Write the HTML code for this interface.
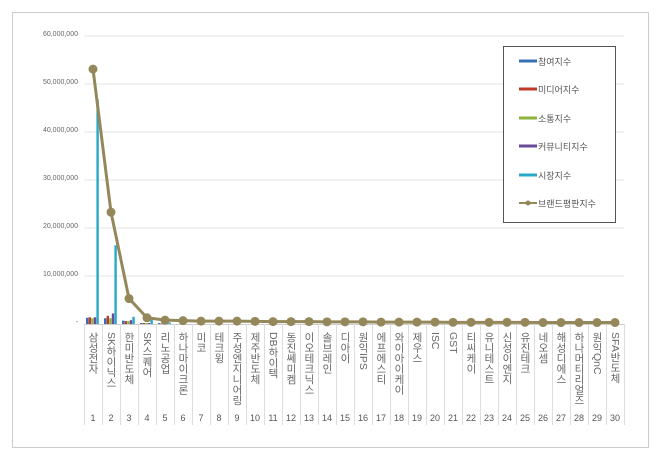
<!DOCTYPE html>
<html><head><meta charset="utf-8"><style>
html,body{margin:0;padding:0;background:#fff;}
#c{position:relative;width:660px;height:457px;overflow:hidden;font-family:"Liberation Sans","Noto Sans CJK KR",sans-serif;}
.lab{position:absolute;top:332px;width:18px;writing-mode:vertical-rl;text-orientation:mixed;font-size:10.5px;color:#666;line-height:18px;}
.num{position:absolute;top:413px;width:18px;text-align:center;font-size:9px;color:#555;}
.yl{position:absolute;left:20px;width:58px;text-align:right;font-size:7px;color:#666;}
.lg{position:absolute;left:538px;font-size:9px;color:#555;}
</style></head><body><div id="c">
<svg id="s" width="660" height="457" style="position:absolute;left:0;top:0"></svg>
</div>
<script>
const names=["삼성전자","SK하이닉스","한미반도체","SK스퀘어","리노공업","하나마이크론","미코","테크윙","주성엔지니어링","제주반도체","DB하이텍","동진쎄미켐","이오테크닉스","솔브레인","디아이","원익IPS","에프에스티","와이아이케이","제우스","ISC","GST","티씨케이","유니테스트","신성이엔지","유진테크","네오셈","해성디에스","하나머티리얼즈","원익QnC","SFA반도체"];
const line=[53.1,23.3,5.3,1.3,0.8,0.7,0.6,0.6,0.6,0.55,0.5,0.5,0.5,0.45,0.45,0.45,0.4,0.4,0.4,0.4,0.35,0.35,0.35,0.35,0.35,0.3,0.3,0.3,0.3,0.3];
const bars=[[1.3,1.4,1.2,1.4,46.8],[1.2,1.7,1.2,2.2,16.4],[0.7,0.6,0.6,0.8,1.5],[0.2,0.2,0.2,0.2,0.9],[0.2,0.1,0.1,0.1,0.3]];
const cols=["#3a6fb5","#c0392b","#8cb43c","#6a4a9a","#2aa8c8"];
const X0=84,W=18,Y0=324,K=4.8;
let s="";
s+='<rect x="12.5" y="12.5" width="636" height="435" fill="none" stroke="#ccc"/>';
for(let i=1;i<=6;i++){let y=Y0-i*10*K;s+=`<line x1="84" x2="624" y1="${y}" y2="${y}" stroke="#e6e6e6"/>`;}
s+=`<line x1="84" x2="624" y1="${Y0+.5}" y2="${Y0+.5}" stroke="#ccc"/>`;
for(let i=0;i<=30;i++){let x=X0+i*W+.5;s+=`<line x1="${x}" x2="${x}" y1="${Y0}" y2="425" stroke="#ddd"/>`;}
bars.forEach((b,i)=>{b.forEach((v,j)=>{let x=X0+i*W+2+j*2.6;s+=`<rect x="${x}" y="${Y0-v*K}" width="2.4" height="${v*K}" fill="${cols[j]}"/>`;});});
let pts=line.map((v,i)=>`${X0+i*W+9},${Y0-v*K}`).join(" ");
s+=`<polyline points="${pts}" fill="none" stroke="#94885a" stroke-width="3"/>`;
line.forEach((v,i)=>{s+=`<circle cx="${X0+i*W+9}" cy="${Y0-v*K}" r="4.5" fill="#94885a"/>`;});
s+='<rect x="503.5" y="46.5" width="112" height="176" fill="#fff" stroke="#555"/>';
[61,89,118,146,175].forEach((y,j)=>{s+=`<rect x="519" y="${y-1.5}" width="18" height="3" fill="${cols[j]}"/>`;});
s+='<line x1="519" x2="537" y1="203" y2="203" stroke="#94885a" stroke-width="2"/><circle cx="528" cy="203" r="2.5" fill="#94885a"/>';
document.getElementById("s").innerHTML=s;
const c=document.getElementById("c");let h="";
names.forEach((n,i)=>{h+=`<div class="lab" style="left:${X0+i*W}px">${n}</div><div class="num" style="left:${X0+i*W}px">${i+1}</div>`;});
["-","10,000,000","20,000,000","30,000,000","40,000,000","50,000,000","60,000,000"].forEach((t,i)=>{h+=`<div class="yl" style="top:${Y0-i*10*K-5}px">${t}</div>`;});
["참여지수","미디어지수","소통지수","커뮤니티지수","시장지수","브랜드평판지수"].forEach((t,j)=>{h+=`<div class="lg" style="top:${[61,89,118,146,175,203][j]-6}px">${t}</div>`;});
c.insertAdjacentHTML("beforeend",h);
</script>
</body></html>
